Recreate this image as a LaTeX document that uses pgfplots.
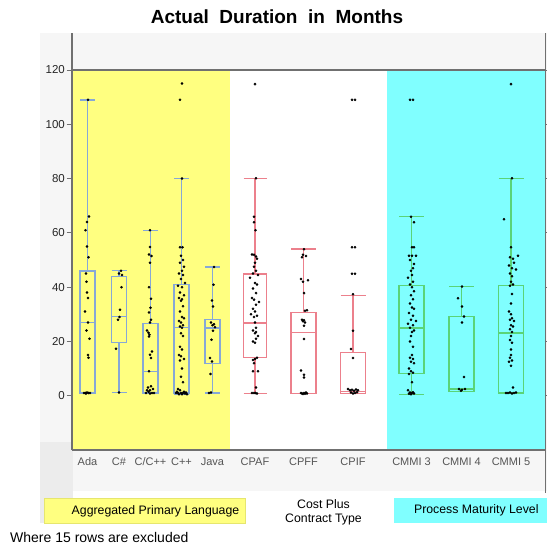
\documentclass[border=0pt]{standalone}
\usepackage{pgfplots}
\pgfplotsset{compat=1.18}
\usepgfplotslibrary{statistics}
\usepackage{fontspec}
\setmainfont{Liberation Sans}

\definecolor{bggray}{RGB}{246,246,246}
\definecolor{stripgray}{RGB}{236,236,236}
\definecolor{hlyellow}{RGB}{255,255,128}
\definecolor{hlcyan}{RGB}{128,255,255}
\definecolor{framegray}{RGB}{112,112,112}
\definecolor{labelgray}{RGB}{85,85,85}
\definecolor{langbox}{RGB}{135,168,214}
\definecolor{costbox}{RGB}{236,128,140}
\definecolor{cmmibox}{RGB}{90,212,120}

\begin{document}
\begin{tikzpicture}[x=1pt,y=1pt]
\useasboundingbox (0,0) rectangle (547,544);
% panel background
\fill[bggray] (40,53) rectangle (547,511);
\fill[stripgray] (40,21) rectangle (73,102);
\node[font=\fontsize{19}{21}\selectfont\bfseries] at (277,527) {Actual\ \ Duration\ \ in\ \ Months};

\begin{axis}[
  at={(72pt,94pt)}, anchor=south west,
  scale only axis, width=473pt, height=415pt,
  xmin=72, xmax=545, ymin=-20, ymax=132.9,
  clip=false,
  axis line style={draw=none},
  xtick={87.5,119,150.5,181.5,212.5,255,303.5,353,411.5,461.5,511},
  xticklabels={Ada,C\#,C/C++,C++,Java,CPAF,CPFF,CPIF,CMMI 3,CMMI 4,CMMI 5},
  x tick style={draw=none},
  xticklabel style={font=\fontsize{11}{12}\selectfont, text=labelgray, anchor=base, yshift=-10pt},
  ytick={0,20,...,120},
  tick align=outside, major tick length=5.5pt,
  y tick style={framegray, line width=0.9pt},
  yticklabel style={font=\fontsize{11.5}{12}\selectfont, text=black!85, inner xsep=1.5pt},
  /pgf/number format/assume math mode=true,
  boxplot/draw direction=y,
]
% grouping bands
\fill[hlyellow] (axis cs:72,-20) rectangle (axis cs:230,120);
\fill[white] (axis cs:230,-20) rectangle (axis cs:387,120);
\fill[hlcyan] (axis cs:387,-20) rectangle (axis cs:545,120);
\draw[framegray, line width=1.2pt] (axis cs:72,120) -- (axis cs:545,120);
\draw[framegray, line width=1.2pt] (axis cs:72,-20) -- (axis cs:545,-20);
\draw[framegray, line width=1.2pt] (axis cs:72,-20) -- (axis cs:72,133.6);

% Aggregated primary language
\addplot[draw=langbox, line width=1.3pt, boxplot prepared={draw direction=y, draw position=87.5, box extend=15, whisker extend=15,
  lower whisker=1, lower quartile=1, median=27, upper quartile=46, upper whisker=109}] coordinates {};
\addplot[draw=langbox, line width=1.3pt, boxplot prepared={draw direction=y, draw position=119, box extend=15, whisker extend=15,
  lower whisker=1.2, lower quartile=19.6, median=29.2, upper quartile=43.8, upper whisker=46.1}] coordinates {};
\addplot[draw=langbox, line width=1.3pt, boxplot prepared={draw direction=y, draw position=150.5, box extend=15, whisker extend=15,
  lower whisker=1, lower quartile=1, median=9, upper quartile=26.5, upper whisker=60.8}] coordinates {};
\addplot[draw=langbox, line width=1.3pt, boxplot prepared={draw direction=y, draw position=181.5, box extend=15, whisker extend=15,
  lower whisker=0.5, lower quartile=1, median=25.2, upper quartile=41.1, upper whisker=80.1}] coordinates {};
\addplot[draw=langbox, line width=1.3pt, boxplot prepared={draw direction=y, draw position=212.5, box extend=15, whisker extend=15,
  lower whisker=1, lower quartile=11.8, median=24.9, upper quartile=28.2, upper whisker=47.4}] coordinates {};

% Cost plus contract type
\addplot[draw=costbox, line width=1.3pt, boxplot prepared={draw direction=y, draw position=255, box extend=23, whisker extend=23,
  lower whisker=0.7, lower quartile=14.1, median=26.8, upper quartile=44.8, upper whisker=80.1}] coordinates {};
\addplot[draw=costbox, line width=1.3pt, boxplot prepared={draw direction=y, draw position=303.5, box extend=25, whisker extend=25,
  lower whisker=0.7, lower quartile=0.7, median=23.4, upper quartile=30.7, upper whisker=54}] coordinates {};
\addplot[draw=costbox, line width=1.3pt, boxplot prepared={draw direction=y, draw position=353, box extend=25, whisker extend=25,
  lower whisker=0.7, lower quartile=0.7, median=1.6, upper quartile=15.9, upper whisker=36.9}] coordinates {};

% Process maturity level
\addplot[draw=cmmibox, line width=1.3pt, boxplot prepared={draw direction=y, draw position=411.5, box extend=25, whisker extend=25,
  lower whisker=0.4, lower quartile=8.3, median=24.9, upper quartile=40.6, upper whisker=65.9}] coordinates {};
\addplot[draw=cmmibox, line width=1.3pt, boxplot prepared={draw direction=y, draw position=461.5, box extend=25, whisker extend=25,
  lower whisker=1.6, lower quartile=1.6, median=2.5, upper quartile=29.2, upper whisker=40.2}] coordinates {};
\addplot[draw=cmmibox, line width=1.3pt, boxplot prepared={draw direction=y, draw position=511, box extend=25, whisker extend=25,
  lower whisker=1, lower quartile=1, median=23.1, upper quartile=40.6, upper whisker=80.1}] coordinates {};

% individual projects (jittered)
\addplot[only marks, mark=*, mark size=1.1pt, black] coordinates {
 (88,109) (89,66) (87,64) (85.5,61) (87,55) (88.5,51) (86,45) (86.5,42) (87,38) (88,36)
 (85,31) (88,27) (86.5,24) (89.5,21) (88,15) (88.5,14) (84,1) (85.5,1) (87,1.2) (88.5,1) (90,1) (86,0.8)
 (121,46) (119,45) (122,44.5) (121.5,40) (120,31.7) (119.5,29) (118,28) (116,17.3) (119,1.2)
 (150,61) (150,54.8) (149,52) (151.5,51.5) (150,49) (149,40) (151,35.7) (150.5,32.4) (149,30.7) (151,28)
 (150,27) (147,24) (148.5,23.2) (149.5,22.5) (149,21.8) (152,16.3) (150,15.1) (151,13.9) (149,9) (148,3)
 (151,3.5) (153,2.5) (147,2) (150,2) (148.5,1.5) (152,1) (146,1) (150,0.8) (154,1)
 (182,115) (180,109) (182,80) (180,54.7) (182.5,54.7) (181,51.6) (183,50) (180,49) (184,47.5) (182,46)
 (179,45) (183,44.5) (181,43) (185,41.5) (178,40.5) (182,40) (180,38) (184,37) (179,36) (182,35.5)
 (181,35) (183,33) (180,31) (182,29) (184,28.5) (179,27.5) (181,27) (183,26) (180,25.5) (182,25)
 (181,23) (183,22) (180,18) (182,17) (179,15) (181,14.5) (184,13.5) (180,13) (182,10) (181,7)
 (183,5) (178,2.5) (180,2) (184,1.5) (176,1) (178,1) (181,1) (183,1) (185,0.8) (187,0.5) (179,0.5) (182,0.5) (186,1.2) (177,1.5)
 (214,47.4) (213.5,40.9) (212,35.1) (213,32.9) (211,27) (214,26.3) (212.5,26) (215,25.2) (213,23.9)
 (211.5,20.6) (210,13.9) (212,12.6) (210.5,8) (209,1) (211,1.2)
};
\addplot[only marks, mark=*, mark size=1.1pt, black] coordinates {
 (255,114.8) (256,80.1) (254,65.9) (254,63.9) (255.5,61) (254,51.9) (256,51.3) (252,52) (257,50.5) (255,49)
 (254,47.5) (256,46) (253,45) (258,44.5) (250,43.5) (255,41.5) (257,41) (253,39.5) (256,37.8) (252,36)
 (254,35.4) (259,34.5) (256,33.5) (253,32) (255,31) (251,30) (257,29.5) (254,29) (255,27) (256,25)
 (253,24) (256,23.5) (255,23) (258,22) (256,21) (253,20) (255,19.5) (257,14) (255,13.5) (253,13.2)
 (254,12) (253,9) (258,9) (256,3) (254,1) (255.5,1) (257,0.8) (252,1)
 (304,54) (303,51.9) (306,51.5) (302,51) (301,43) (303,42) (308,42.5) (304,37.8) (305,31.3) (307,31.5)
 (302,28) (304,27.8) (303,27.4) (305,27) (304,25.8) (304,20.9) (301,9.3) (304,7.7) (304,6.7) (301,1)
 (302,0.8) (303,0.6) (304,1) (305,0.7) (306,1.2) (307,0.8)
 (352,109) (355,109) (352,54.7) (355,54.7) (352,44.9) (355,44.9) (353,37.4) (353,23.9) (351,17.2) (353,13.9)
 (348,2.5) (350,2) (352,2.2) (354,1.8) (356,2.3) (358,2) (351,1.2) (355,1) (357,1.3) (353,0.8)
};
\addplot[only marks, mark=*, mark size=1.1pt, black] coordinates {
 (410,109) (413,109) (411,65.9) (414,63.9) (412,54.7) (414,54.7) (409,51.6) (412,51.6) (416,51.6) (410,50)
 (414,48.5) (413,47) (411,46) (412,44.5) (408,43.5) (413,42) (410,41) (412,40) (414,38.5) (411,37)
 (413,35.5) (410,34) (412,32.5) (414,32) (409,30.5) (413,29.5) (411,28) (416,27.5) (408,26.5) (413,26)
 (410,25) (414,24) (412,23.5) (411,22) (410,20) (413,18) (412,15) (410,14) (413,13.5) (411,12.5)
 (414,12) (409,10) (411,9) (413,8.5) (409,8) (412,5) (408,2) (410,1.2) (412,1) (414,0.8) (411,0.5) (409,0.7) (413,1.3)
 (462,40.2) (458,35.9) (462,32.9) (464,29.2) (462,27) (464,6.9) (459,2.5) (462,2.2) (465,2.5) (461,1.8)
 (511,114.8) (512,80.1) (504,65) (511,54.7) (518,51.6) (510,51) (513,50.5) (514,49) (509,48) (512,47)
 (516,46.5) (510,45) (512,44) (511,42) (513,41) (510,40.5) (512,37.5) (511,34) (509,31) (511,30)
 (512,28.5) (510,28) (514,27.5) (511,26) (513,25.5) (510,24.5) (512,23.5) (511,22) (510,20.5) (512,19.5)
 (511,17) (511,15) (510,14) (512,13) (509,12.5) (511,11) (513,3) (506,1) (508,1) (510,1.2) (512,0.8) (514,1) (516,1.2)
};
\end{axis}

% right edge of the panel
\draw[framegray, line width=1.2pt] (545.8,51) -- (545.8,511);

% group keys
\fill[white] (246,21) rectangle (402,52.5);
\filldraw[fill=hlyellow, draw={rgb,255:red,230;green,230;blue,110}, line width=0.6pt] (44,21) rectangle (245.5,46);
\fill[hlcyan] (393.5,21) rectangle (547,46);
\node[font=\fontsize{12.3}{14}\selectfont] at (155.5,32.5) {Aggregated Primary Language};
\node[font=\fontsize{12.3}{14.5}\selectfont, align=center] at (323.5,31.5) {Cost Plus\\Contract Type};
\node[font=\fontsize{12.3}{14}\selectfont] at (476.3,33.5) {Process Maturity Level};
\node[font=\fontsize{14}{16}\selectfont, anchor=base west, inner sep=0pt] at (10,1.5) {Where 15 rows are excluded};
\end{tikzpicture}
\end{document}
